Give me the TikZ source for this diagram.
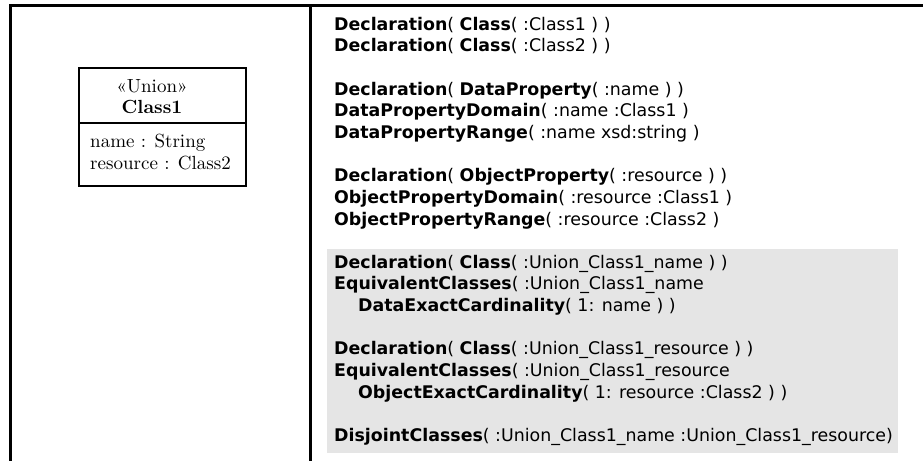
\documentclass[tikz,border=0pt]{standalone}
\usepackage{fontspec}
\newfontfamily\owlfont{DejaVu Sans}
\begin{document}
\begin{tikzpicture}[x=1pt,y=-1pt,
  frame/.style={line width=2.5pt,black},
  owl/.style={anchor=base west,inner sep=0pt,font=\owlfont\fontsize{17.4}{20}\selectfont},
  uml/.style={inner sep=0pt}]
\useasboundingbox (0,0) rectangle (923,461);
% frame
\draw[frame] (9,5.5) -- (923,5.5);
\draw[frame] (10.5,5.5) -- (10.5,461);
\draw[frame] (310.5,5.5) -- (310.5,461);
% gray block
\fill[black!10] (327,249) rectangle (898,453);
% class box
\draw[line width=1.8pt] (79,68) rectangle (246,186);
\draw[line width=1.8pt] (79,123) -- (246,123);
\node[uml,anchor=base] (st) at (152,92) {\scalebox{1.9}{\fontsize{10}{12}\selectfont «Union»}};
\node[uml,anchor=base] (cn) at (152,113) {\scalebox{1.9}{\fontsize{10}{12}\selectfont\bfseries Class1}};
\node[uml,anchor=base west] (a1) at (90,147) {\scalebox{1.9}{\fontsize{10}{12}\selectfont name : String}};
\node[uml,anchor=base west] (a2) at (90,169) {\scalebox{1.9}{\fontsize{10}{12}\selectfont resource : Class2}};
% OWL text
\node[owl] (l1) at (334,30) {\textbf{Declaration}( \textbf{Class}( :Class1 ) )};
\node[owl] (l2) at (334,51.7) {\textbf{Declaration}( \textbf{Class}( :Class2 ) )};
\node[owl] (l3) at (334,95.1) {\textbf{Declaration}( \textbf{DataProperty}( :name ) )};
\node[owl] (l4) at (334,116.8) {\textbf{DataPropertyDomain}( :name :Class1 )};
\node[owl] (l5) at (334,138.5) {\textbf{DataPropertyRange}( :name xsd:string )};
\node[owl] (l6) at (334,181.9) {\textbf{Declaration}( \textbf{ObjectProperty}( :resource ) )};
\node[owl] (l7) at (334,203.6) {\textbf{ObjectPropertyDomain}( :resource :Class1 )};
\node[owl] (l8) at (334,225.3) {\textbf{ObjectPropertyRange}( :resource :Class2 )};
\node[owl] (g1) at (334,268) {\textbf{Declaration}( \textbf{Class}( :Union\_Class1\_name ) )};
\node[owl] (g2) at (334,289.7) {\textbf{EquivalentClasses}( :Union\_Class1\_name};
\node[owl] (g3) at (358,311.4) {\textbf{DataExactCardinality}( 1: name ) )};
\node[owl] (g4) at (334,354.8) {\textbf{Declaration}( \textbf{Class}( :Union\_Class1\_resource ) )};
\node[owl] (g5) at (334,376.5) {\textbf{EquivalentClasses}( :Union\_Class1\_resource};
\node[owl] (g6) at (358,398.2) {\textbf{ObjectExactCardinality}( 1: resource :Class2 ) )};
\node[owl] (g7) at (334,441.6) {\textbf{DisjointClasses}( :Union\_Class1\_name :Union\_Class1\_resource)};
\end{tikzpicture}
\end{document}
